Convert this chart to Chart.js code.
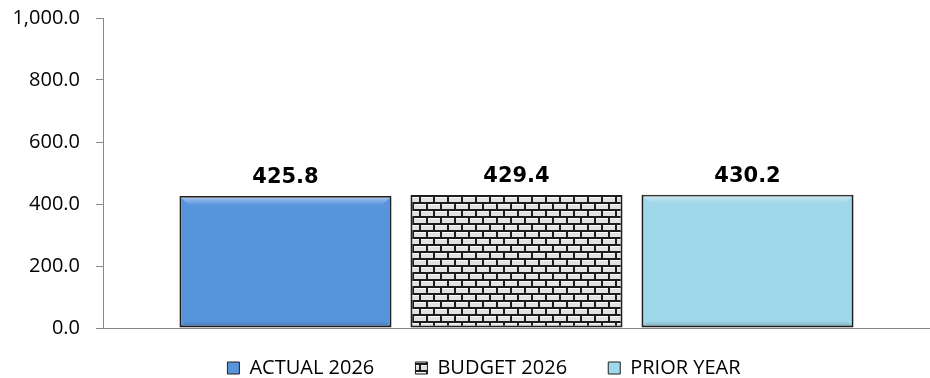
<!DOCTYPE html>
<html>
<head>
<meta charset="utf-8">
<script src="https://cdn.jsdelivr.net/npm/chart.js@4/dist/chart.umd.min.js"></script>
<style>
  html, body { margin: 0; padding: 0; background: #fff; }
  #wrap { width: 930px; height: 378px; }
</style>
</head>
<body>
<div id="wrap"><canvas id="chart"></canvas></div>
<script>
const categories = [''];
const seriesNames = ['ACTUAL 2026', 'BUDGET 2026', 'PRIOR YEAR'];
const seriesValues = [425.8, 429.4, 430.2];
const yTicks = [0, 200, 400, 600, 800, 1000];

// brick fill for the budget bar
const makeBricks = () => {
  const c = document.createElement('canvas');
  c.width = 14;
  c.height = 14;
  const g = c.getContext('2d');
  g.fillStyle = '#1c1c1c';
  g.fillRect(0, 0, 14, 14);
  g.fillStyle = '#e2e2e2';
  g.fillRect(1, 1, 12, 5);
  g.fillRect(-6, 8, 12, 5);
  g.fillRect(8, 8, 12, 5);
  g.fillStyle = '#f8f8f8';
  g.fillRect(1, 1, 12, 1);
  g.fillRect(-6, 8, 12, 1);
  g.fillRect(8, 8, 12, 1);
  return g.createPattern(c, 'repeat');
};

const fills = ['#5894dc', makeBricks(), '#9fd8ea'];
const bevelled = [true, false, true];

// soft bevel on the plain bars, taken from the bar elements
const bevel = {
  id: 'bevel',
  afterDatasetsDraw(chart) {
    const { ctx } = chart;
    chart.data.datasets.forEach((ds, i) => {
      if (!bevelled[i]) return;
      const b = chart.getDatasetMeta(i).data[0];
      const l = b.x - b.width / 2 + 1, r = b.x + b.width / 2 - 1;
      const t = b.y + 1, btm = b.base - 1;
      ctx.save();
      let g = ctx.createLinearGradient(0, t, 0, t + 8);
      g.addColorStop(0, 'rgba(255,255,255,0.45)');
      g.addColorStop(1, 'rgba(255,255,255,0)');
      ctx.fillStyle = g;
      ctx.beginPath();
      ctx.moveTo(l, t); ctx.lineTo(r, t); ctx.lineTo(r - 8, t + 8); ctx.lineTo(l + 8, t + 8);
      ctx.closePath();
      ctx.fill();
      g = ctx.createLinearGradient(0, btm, 0, btm - 6);
      g.addColorStop(0, 'rgba(0,0,0,0.18)');
      g.addColorStop(1, 'rgba(0,0,0,0)');
      ctx.fillStyle = g;
      ctx.beginPath();
      ctx.moveTo(l, btm); ctx.lineTo(r, btm); ctx.lineTo(r - 6, btm - 6); ctx.lineTo(l + 6, btm - 6);
      ctx.closePath();
      ctx.fill();
      ctx.restore();
    });
  },
};

const valueLabels = {
  id: 'valueLabels',
  afterDatasetsDraw(chart) {
    const { ctx } = chart;
    ctx.save();
    ctx.font = 'bold 21px "DejaVu Sans"';
    ctx.fillStyle = '#000';
    ctx.textAlign = 'center';
    ctx.textBaseline = 'alphabetic';
    chart.data.datasets.forEach((ds, i) => {
      const bar = chart.getDatasetMeta(i).data[0];
      ctx.fillText(ds.data[0].toFixed(1), bar.x, bar.y - 13);
    });
    ctx.restore();
  },
};

// the legend sits a little right of the canvas centre
const legendShift = {
  id: 'legendShift',
  afterLayout(chart) {
    chart.legend.left += 19;
    chart.legend.right += 19;
  },
};

new Chart(document.getElementById('chart').getContext('2d'), {
  type: 'bar',
  data: {
    labels: categories,
    datasets: seriesNames.map((name, i) => ({
      label: name,
      data: [seriesValues[i]],
      backgroundColor: fills[i],
      borderColor: '#1e1e1e',
      borderWidth: 2,
      borderSkipped: false,
      categoryPercentage: 0.838,
      barPercentage: 0.918,
    })),
  },
  options: {
    responsive: true,
    maintainAspectRatio: false,
    animation: false,
    layout: { padding: { top: 0, right: 0, left: 0, bottom: -10 } },
    plugins: {
      tooltip: { enabled: false },
      legend: {
        position: 'bottom',
        labels: {
          boxWidth: 12,
          boxHeight: 12,
          padding: 10,
          color: '#000',
          font: { family: '"Open Sans"', size: 20 },
          generateLabels(chart) {
            const items = Chart.defaults.plugins.legend.labels.generateLabels(chart);
            items.forEach((it, i) => {
              it.lineWidth = 1;
              it.strokeStyle = '#1e1e1e';
              if (i < items.length - 1) it.text = it.text + '      ';
            });
            return items;
          },
        },
      },
    },
    scales: {
      x: {
        grid: { display: false },
        border: { display: true, color: '#888', width: 1 },
        ticks: { display: false },
        afterFit(scale) { scale.height = 20; },
      },
      y: {
        min: 0,
        max: 1000,
        afterBuildTicks(scale) { scale.ticks = yTicks.map(v => ({ value: v })); },
        grid: { drawOnChartArea: false, drawTicks: true, tickLength: 7, color: '#888' },
        border: { display: true, color: '#888', width: 1 },
        ticks: {
          padding: 16,
          color: '#000',
          font: { family: '"Open Sans"', size: 20 },
          callback: v => v.toLocaleString('en-US', { minimumFractionDigits: 1, maximumFractionDigits: 1 }),
        },
        afterFit(scale) {
          scale.width = 103;
          scale.paddingTop = 18;
          scale.paddingBottom = 10;
        },
      },
    },
  },
  plugins: [bevel, valueLabels, legendShift],
});
</script>
</body>
</html>
